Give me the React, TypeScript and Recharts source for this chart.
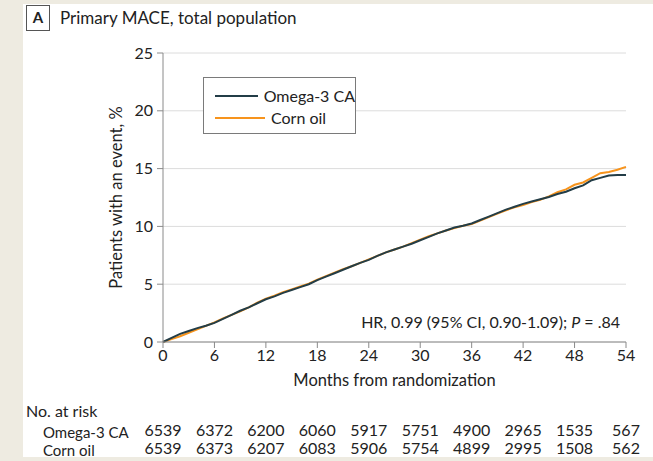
import React from "react";
import { CartesianGrid, Line, LineChart, XAxis, YAxis } from "recharts";

// cumulative incidence, %, read monthly
const months = [
  0, 1, 2, 3, 4, 5, 6, 7, 8, 9, 10, 11, 12, 13, 14, 15, 16, 17, 18, 19, 20,
  21, 22, 23, 24, 25, 26, 27, 28, 29, 30, 31, 32, 33, 34, 35, 36, 37, 38, 39,
  40, 41, 42, 43, 44, 45, 46, 47, 48, 49, 50, 51, 52, 53, 54,
];
const omegaPct = [
  0, 0.35, 0.7, 0.95, 1.2, 1.4, 1.65, 2.0, 2.35, 2.7, 3.0, 3.35, 3.7, 3.95,
  4.25, 4.5, 4.75, 5.0, 5.35, 5.65, 5.95, 6.25, 6.55, 6.85, 7.1, 7.45, 7.75,
  8.0, 8.25, 8.5, 8.8, 9.1, 9.4, 9.65, 9.9, 10.05, 10.25, 10.55, 10.85, 11.15,
  11.45, 11.7, 11.95, 12.15, 12.35, 12.55, 12.8, 13.0, 13.3, 13.55, 14.0, 14.2,
  14.4, 14.45, 14.45,
];
const cornPct = [
  0, 0.25, 0.5, 0.8, 1.1, 1.4, 1.7, 2.05, 2.35, 2.65, 3.0, 3.4, 3.75, 4.0, 4.3,
  4.55, 4.8, 5.05, 5.4, 5.7, 6.0, 6.3, 6.55, 6.85, 7.15, 7.45, 7.75, 8.0, 8.25,
  8.55, 8.85, 9.15, 9.4, 9.65, 9.85, 10.05, 10.2, 10.5, 10.8, 11.1, 11.4,
  11.65, 11.85, 12.1, 12.3, 12.6, 12.95, 13.2, 13.6, 13.8, 14.2, 14.6, 14.7,
  14.9, 15.15,
];

const riskMonths = [0, 6, 12, 18, 24, 30, 36, 42, 48, 54];
const omegaAtRisk = [6539, 6372, 6200, 6060, 5917, 5751, 4900, 2965, 1535, 567];
const cornAtRisk = [6539, 6373, 6207, 6083, 5906, 5754, 4899, 2995, 1508, 562];
const yTicks = [0, 5, 10, 15, 20, 25];

const rows = months.map((m, i) => ({
  month: m,
  omega: omegaPct[i],
  corn: cornPct[i],
}));

const FONT = "Lato, 'Liberation Sans', sans-serif";
const OMEGA = "#233d47";
const CORN = "#f7941d";
const TEXT = "#222";
const AXIS = "#8a8a8a";

const series = [
  { name: "Omega-3 CA", color: OMEGA },
  { name: "Corn oil", color: CORN },
];

const riskTick = { fill: TEXT, fontSize: 16, fontFamily: FONT };

export default function App() {
  return (
    <div
      style={{
        position: "fixed",
        left: 0,
        top: 0,
        width: 653,
        height: 461,
        background: "#eeebe1",
        fontFamily: FONT,
        color: TEXT,
      }}
    >
      <div
        style={{
          position: "absolute",
          left: 23,
          top: 4,
          width: 630,
          height: 453,
          background: "#fff",
        }}
      />
      <div
        style={{
          position: "absolute",
          left: 26,
          top: 5,
          width: 24,
          height: 26,
          boxSizing: "border-box",
          border: "1.5px solid #555",
          fontWeight: 700,
          fontSize: 15,
          lineHeight: "23px",
          textAlign: "center",
        }}
      >
        A
      </div>
      <div
        style={{
          position: "absolute",
          left: 60,
          top: 7,
          fontSize: 17,
          lineHeight: "22px",
        }}
      >
        Primary MACE, total population
      </div>

      <div style={{ position: "absolute", left: 0, top: 0 }}>
        <LineChart
          width={653}
          height={461}
          data={rows}
          margin={{ top: 53, right: 27, bottom: 3, left: 93 }}
        >
          <CartesianGrid vertical={false} stroke="#dcdcdc" />
          <XAxis
            dataKey="month"
            type="number"
            domain={[0, 54]}
            ticks={riskMonths}
            interval={0}
            height={80}
            stroke={AXIS}
            tickSize={6}
            tickMargin={2}
            tick={{ fill: TEXT, fontSize: 16, fontFamily: FONT }}
            label={{
              value: "Months from randomization",
              position: "insideTop",
              offset: 32,
              style: { fill: TEXT, fontSize: 16.5, fontFamily: FONT },
            }}
          />
          {/* number-at-risk rows sit under the time axis */}
          <XAxis
            xAxisId="riskA"
            dataKey="month"
            type="number"
            domain={[0, 54]}
            ticks={riskMonths}
            interval={0}
            height={18}
            axisLine={false}
            tickLine={false}
            tickSize={0}
            tickMargin={3}
            tick={riskTick}
            tickFormatter={(v: number) => String(omegaAtRisk[riskMonths.indexOf(v)])}
          />
          <XAxis
            xAxisId="riskB"
            dataKey="month"
            type="number"
            domain={[0, 54]}
            ticks={riskMonths}
            interval={0}
            height={18}
            axisLine={false}
            tickLine={false}
            tickSize={0}
            tickMargin={3}
            tick={riskTick}
            tickFormatter={(v: number) => String(cornAtRisk[riskMonths.indexOf(v)])}
          />
          <YAxis
            type="number"
            domain={[0, 25]}
            ticks={yTicks}
            interval={0}
            width={70}
            stroke={AXIS}
            tickSize={6}
            tickMargin={4}
            tick={{ fill: TEXT, fontSize: 16, fontFamily: FONT }}
            label={{
              value: "Patients with an event, %",
              angle: -90,
              position: "insideLeft",
              offset: 23,
              style: {
                fill: TEXT,
                fontSize: 16.5,
                fontFamily: FONT,
                textAnchor: "middle",
              },
            }}
          />
          <Line
            dataKey="corn"
            name="Corn oil"
            type="linear"
            stroke={CORN}
            strokeWidth={2}
            dot={false}
            isAnimationActive={false}
          />
          <Line
            dataKey="omega"
            name="Omega-3 CA"
            type="linear"
            stroke={OMEGA}
            strokeWidth={2}
            dot={false}
            isAnimationActive={false}
          />
        </LineChart>
      </div>

      <div
        style={{
          position: "absolute",
          left: 203,
          top: 77,
          width: 153,
          height: 57,
          boxSizing: "border-box",
          border: "1px solid #7a7a7a",
          background: "#fff",
          padding: "7px 0 0 11px",
          fontSize: 16,
          lineHeight: "22px",
          whiteSpace: "nowrap",
        }}
      >
        {series.map((s) => (
          <div key={s.name} style={{ display: "flex", alignItems: "center" }}>
            <span
              style={{
                display: "inline-block",
                width: 50,
                height: 2,
                background: s.color,
                marginRight: 6,
              }}
            />
            {s.name}
          </div>
        ))}
      </div>

      <div
        style={{
          position: "absolute",
          right: 33,
          top: 312,
          fontSize: 16,
          lineHeight: "20px",
          whiteSpace: "nowrap",
        }}
      >
        HR, 0.99 (95% CI, 0.90-1.09); <i>P</i> = .84
      </div>

      <div style={{ position: "absolute", left: 26, top: 401, fontSize: 16, lineHeight: "20px" }}>
        No. at risk
      </div>
      <div style={{ position: "absolute", left: 43, top: 422, fontSize: 15, lineHeight: "20px" }}>
        Omega-3 CA
      </div>
      <div style={{ position: "absolute", left: 43, top: 440, fontSize: 15, lineHeight: "20px" }}>
        Corn oil
      </div>
    </div>
  );
}
